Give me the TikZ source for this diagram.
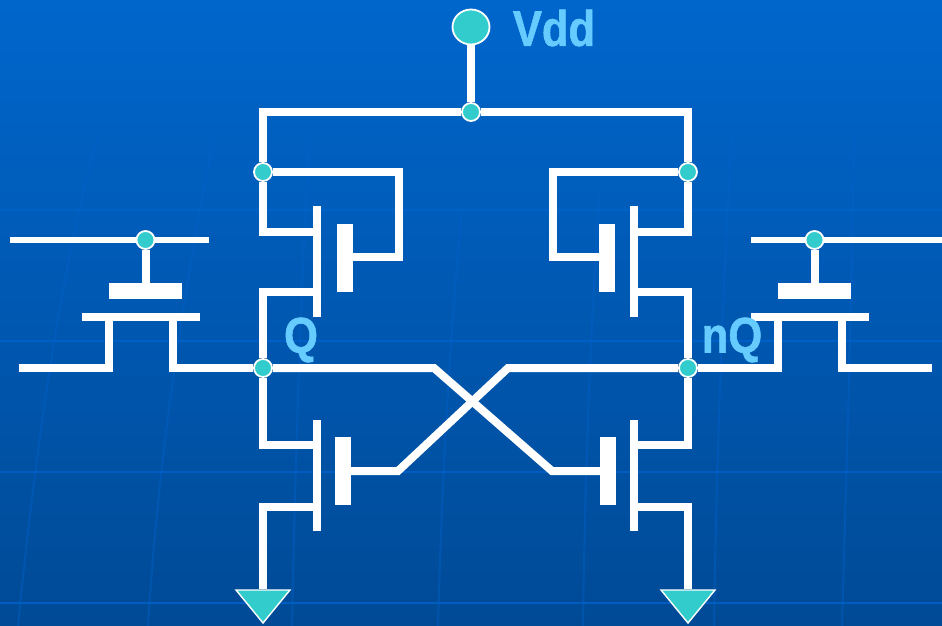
\documentclass[tikz,border=0pt]{standalone}
\usepackage{fontspec}
\usetikzlibrary{shapes.geometric}
\setmainfont{Liberation Sans}[BoldFeatures={FakeBold=1.2}]
\definecolor{bgtop}{HTML}{0066CC}
\definecolor{bgbot}{HTML}{004A96}
\definecolor{gridc}{HTML}{0062CC}
\definecolor{teal}{HTML}{33CCCC}
\definecolor{lbl}{HTML}{66CCFF}
\tikzset{
  wire/.style={draw=white,line width=8pt,line join=miter,line cap=butt},
  thinwire/.style={draw=white,line width=6pt,line join=miter},
  jct/.style={circle,fill=teal,draw=white,line width=1.8pt,minimum size=18pt,inner sep=0pt},
  bigjct/.style={ellipse,fill=teal,draw=white,line width=1.8pt,minimum width=37pt,minimum height=35pt,inner sep=0pt},
  bar/.style={rectangle,fill=white,inner sep=0pt,outer sep=0pt},
  vgate/.style={bar,minimum width=16pt,minimum height=68pt},
  hgate/.style={bar,minimum width=73pt,minimum height=16pt},
  vchan/.style={bar,minimum width=8pt,minimum height=111pt},
  hchan/.style={bar,minimum width=118pt,minimum height=8pt},
  gnd/.style={fill=teal,draw=white,line width=1.4pt,line join=miter},
  lab/.style={text=lbl,font=\fontsize{50}{50}\selectfont\bfseries,inner sep=0pt,xscale=.87,transform shape},
  gridl/.style={draw=gridc,line width=2.6pt,opacity=.8},
  gridv/.style={draw=gridc,line width=2pt,opacity=.4}
}
\begin{document}
\begin{tikzpicture}[x=1pt,y=-1pt]
\useasboundingbox (0,0) rectangle (942,626);
\shade[top color=bgtop,bottom color=bgbot] (0,0) rectangle (942,626);
% background grid
\foreach \yy in {210,341,472,603} \draw[gridl] (0,\yy) -- (942,\yy);
\draw[gridv] (100,130) .. controls (70,230) and (40,400) .. (18,626);
\draw[gridv] (215,130) .. controls (190,260) and (160,430) .. (148,626);
\draw[gridv] (310,130) .. controls (300,300) and (295,480) .. (292,626);
\draw[gridv] (462,210) .. controls (450,330) and (442,480) .. (438,626);
\draw[gridv] (600,190) .. controls (590,330) and (585,480) .. (583,626);
\draw[gridv] (732,130) .. controls (722,300) and (716,480) .. (714,626);
\draw[gridv] (854,130) .. controls (852,300) and (846,480) .. (842,626);

% terminals and junctions
\node[bigjct] (vdd) at (471,27) {};
\node[jct] (jtop) at (471,112) {};
\node[jct] (jPL) at (263,172) {};
\node[jct] (jPR) at (688,172) {};
\node[jct] (jQ) at (263,368) {};
\node[jct] (jnQ) at (688,368) {};
\node[jct] (jWL) at (145.5,240) {};
\node[jct] (jWR) at (814.5,240) {};

% transistor plates
\node[vchan] (chPL) at (317,261.5) {};
\node[vchan] (chPR) at (634,261.5) {};
\node[vchan] (chNL) at (317,475.5) {};
\node[vchan] (chNR) at (634,475.5) {};
\node[vgate] (gPL) at (344.5,257.5) {};
\node[vgate] (gPR) at (607,257.5) {};
\node[vgate] (gNL) at (343,471) {};
\node[vgate] (gNR) at (608,471) {};
\node[hgate] (gAL) at (145.5,291) {};
\node[hgate] (gAR) at (814.5,291) {};
\node[hchan] (chAL) at (141,317) {};
\node[hchan] (chAR) at (810,317) {};

% corner points
\coordinate (tl) at (263,112);
\coordinate (tr) at (688,112);
\coordinate (sPL) at (263,232);
\coordinate (dPL) at (263,292);
\coordinate (sPR) at (688,232);
\coordinate (dPR) at (688,292);
\coordinate (dNL) at (263,445);
\coordinate (sNL) at (263,507);
\coordinate (dNR) at (688,445);
\coordinate (sNR) at (688,507);
\coordinate (fbL1) at (399,172);
\coordinate (fbL2) at (399,257);
\coordinate (fbR1) at (553,172);
\coordinate (fbR2) at (553,257);
\coordinate (xL) at (398,471);
\coordinate (xLe) at (508,368);
\coordinate (xR) at (552,471);
\coordinate (xRe) at (434,368);
\coordinate (wL1) at (10,240);
\coordinate (wL2) at (209,240);
\coordinate (wR1) at (751,240);
\coordinate (wR2) at (942,240);
\coordinate (bL0) at (19,368);
\coordinate (bL1) at (109,368);
\coordinate (bL2) at (173,368);
\coordinate (bR1) at (778,368);
\coordinate (bR2) at (842,368);
\coordinate (bR3) at (932,368);

% ground symbols
\node[inner sep=0pt] (gndL) at (263,590) {};
\node[inner sep=0pt] (gndR) at (688,590) {};

% wires
\draw[wire] (vdd) -- (jtop);
\draw[wire] (jtop) -- (tl) -- (jPL);
\draw[wire] (jtop) -- (tr) -- (jPR);
\draw[wire] (jPL) -- (sPL) -- (sPL -| chPL);
\draw[wire] (jPR) -- (sPR) -- (sPR -| chPR);
\draw[wire] (jPL) -- (fbL1) -- (fbL2) -- (fbL2 -| gPL.east);
\draw[wire] (jPR) -- (fbR1) -- (fbR2) -- (fbR2 -| gPR.west);
\draw[wire] (dPL -| chPL) -- (dPL) -- (jQ);
\draw[wire] (dPR -| chPR) -- (dPR) -- (jnQ);
\draw[wire] (jQ) -- (dNL) -- (dNL -| chNL);
\draw[wire] (jnQ) -- (dNR) -- (dNR -| chNR);
\draw[wire] (sNL -| chNL) -- (sNL) -- (gndL);
\draw[wire] (sNR -| chNR) -- (sNR) -- (gndR);
\draw[wire] (gNL.east) -- (xL) -- (xLe) -- (jnQ);
\draw[wire] (gNR.west) -- (xR) -- (xRe) -- (jQ);
\draw[thinwire] (wL1) -- (jWL);
\draw[thinwire] (jWL) -- (wL2);
\draw[thinwire] (wR1) -- (jWR);
\draw[thinwire] (jWR) -- (wR2);
\draw[wire] (jWL) -- (gAL.north -| jWL);
\draw[wire] (jWR) -- (gAR.north -| jWR);
\draw[wire] (bL0) -- (bL1) -- (bL1 |- chAL.south);
\draw[wire] (bL2 |- chAL.south) -- (bL2) -- (jQ);
\draw[wire] (jnQ) -- (bR1) -- (bR1 |- chAR.south);
\draw[wire] (bR2 |- chAR.south) -- (bR2) -- (bR3);

\draw[gnd] (236,590) -- (290,590) -- (263,623) -- cycle;
\draw[gnd] (661,590) -- (715,590) -- (688,623) -- cycle;

% labels
\node[lab] (tVdd) at (554,28) {Vdd};
\node[lab] (tQ) at (301,340) {Q};
\node[lab] (tnQ) at (732,340) {nQ};
\end{tikzpicture}
\end{document}
